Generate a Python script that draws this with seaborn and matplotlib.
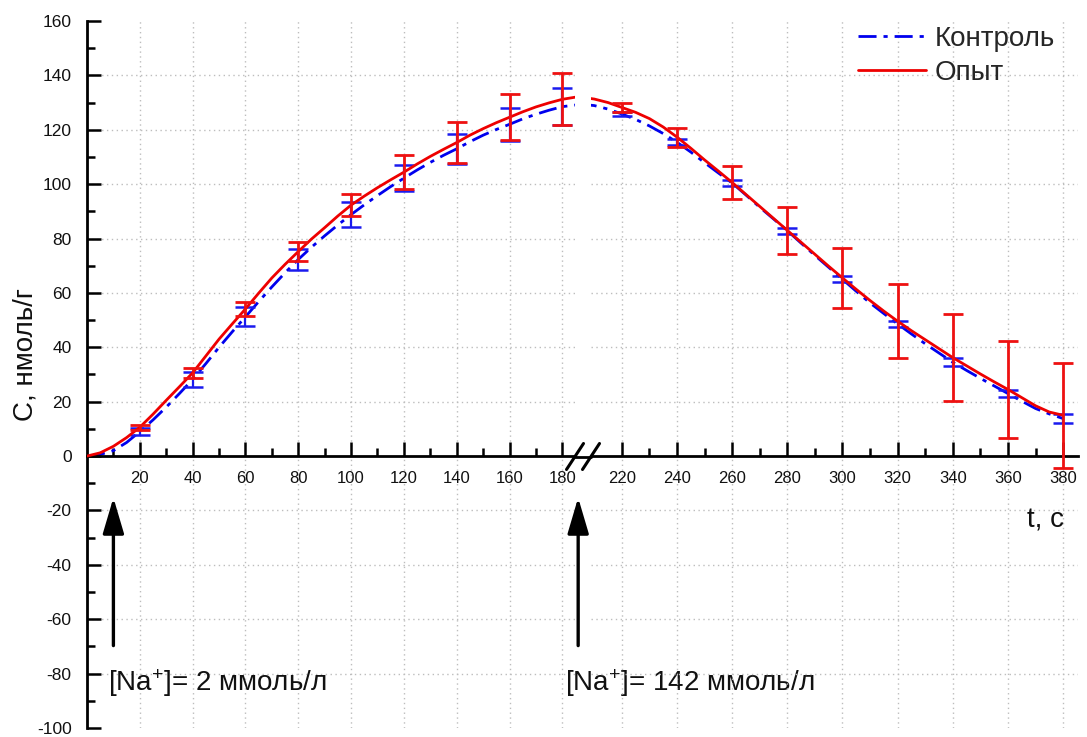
import matplotlib
matplotlib.use("Agg")
import matplotlib.pyplot as plt
from matplotlib.lines import Line2D
from matplotlib.ticker import FixedLocator
import pandas as pd
import seaborn as sns

# ---- data -------------------------------------------------------------
t = list(range(0, 385, 5))
control = [0, 0.6, 2, 5, 9, 13.3, 18, 23, 28.2, 34, 40, 45.7, 51.2, 56.8, 62.2,
           67.4, 72.3, 76.8, 81, 85, 88.8, 92.4, 95.8, 99.1, 102.2, 105.2, 108,
           110.6, 113, 115.6, 118, 120.1, 122, 124, 125.7, 127.2, 128.5, 129.1,
           129.5, 129.7, 129.6, 129.4, 128.9, 127.6, 125.8, 123.8, 121.4, 118.6,
           115.4, 111.8, 107.9, 104.1, 100.4, 96, 91.5, 87.2, 82.9, 78.3, 73.8,
           69.4, 65, 60.6, 56.3, 52.4, 48.6, 44.9, 41.3, 37.9, 34.5, 31.5, 28.6,
           25.8, 23, 20.2, 17.5, 15.5, 13.8]
experiment = [0, 1.2, 3.6, 6.8, 10.6, 15.4, 20.5, 25.5, 30.6, 36.8, 43, 48.6,
              54.1, 59.9, 65.5, 70.5, 75.2, 79.8, 84, 88.3, 92.3, 95.6, 98.7,
              101.6, 104.4, 107.4, 110.2, 112.8, 115.3, 118, 120.4, 122.6, 124.6,
              126.6, 128.4, 129.9, 131.2, 132, 132.5, 132.6, 132.4, 132, 131.3,
              130, 128.2, 126.4, 124.1, 121, 117.3, 113.2, 108.9, 104.8, 100.6,
              96.2, 91.8, 87.4, 83, 78.6, 74.2, 69.8, 65.5, 61.3, 57.2, 53.3,
              49.6, 46.1, 42.8, 39.5, 36.2, 33.2, 30.2, 27.3, 24.5, 21.5, 18.5,
              16.2, 15]

err_t = [20, 40, 60, 80, 100, 120, 140, 160, 180,
         220, 240, 260, 280, 300, 320, 340, 360, 380]
control_err = [1.3, 2.7, 3.5, 4.0, 4.5, 4.8, 5.5, 6.0, 6.8,
               0.8, 1.1, 1.1, 1.1, 1.1, 1.1, 1.4, 1.2, 1.7]
experiment_err = [1.0, 1.8, 2.6, 3.4, 4.1, 6.2, 7.5, 8.4, 9.5,
                  1.7, 3.5, 6.0, 8.6, 11.2, 13.7, 16.0, 17.8, 19.4]

left_ticks = [20, 40, 60, 80, 100, 120, 140, 160, 180]
right_ticks = [220, 240, 260, 280, 300, 320, 340, 360, 380]
y_ticks = list(range(-100, 161, 20))

labels = ["Контроль", "Опыт"]
y_label = "С, нмоль/г"
x_label = "t, с"
note_low = "[Na$^{+}$]= 2 ммоль/л"
note_high = "[Na$^{+}$]= 142 ммоль/л"

# ---- style ------------------------------------------------------------
sns.set_theme(style="white")
plt.rcParams["font.family"] = ["Liberation Sans", "DejaVu Sans"]
plt.rcParams["mathtext.default"] = "regular"
plt.rcParams["axes.unicode_minus"] = False

W, H = 1087, 737
fig = plt.figure(figsize=(W / 100, H / 100), dpi=100)


def box(x0, x1, y0, y1):
    return [x0 / W, 1 - y1 / H, (x1 - x0) / W, (y1 - y0) / H]


ax_l = fig.add_axes(box(87, 575, 21, 728))
ax_r = fig.add_axes(box(591, 1078, 21, 728))
for ax in (ax_l, ax_r):
    ax.patch.set_visible(False)

df = pd.DataFrame({"t": t + t, "C": control + experiment,
                   "group": [labels[0]] * len(t) + [labels[1]] * len(t)})
ctrl_mid = dict(zip(t, control))
exp_mid = dict(zip(t, experiment))

grid_kw = dict(color="#bdbdbd", linestyle=(0, (1, 2.5)), linewidth=1.0, zorder=0.5)
handles = []
for ax, xlim, ticks in [(ax_l, (0, 184.8), left_ticks),
                        (ax_r, (208.8, 385.4), right_ticks)]:
    ax.set_xlim(*xlim)
    ax.set_ylim(-100, 160)
    ax.grid(False)

    for x in ticks:
        ax.axvline(x, **grid_kw)
    for y in y_ticks[1:-1]:
        if y != 0:
            ax.axhline(y, **grid_kw)

    sub_c = df[df["group"] == labels[0]]
    sub_e = df[df["group"] == labels[1]]
    sns.lineplot(data=sub_c, x="t", y="C", ax=ax, color="#0000ee",
                 linewidth=2.0, linestyle=(0, (6.5, 2.5, 1.5, 2.5)),
                 zorder=2, legend=False, estimator=None)
    line_c = ax.lines[-1]
    ax.errorbar(err_t, [ctrl_mid[v] for v in err_t], yerr=control_err,
                fmt="none", ecolor="#1a1aee", elinewidth=1.6, capsize=7.5,
                capthick=1.8, zorder=2.5)
    sns.lineplot(data=sub_e, x="t", y="C", ax=ax, color="#ee0000",
                 linewidth=2.0, zorder=3, legend=False, estimator=None)
    line_e = ax.lines[-1]
    ax.errorbar(err_t, [exp_mid[v] for v in err_t], yerr=experiment_err,
                fmt="none", ecolor="#ee1111", elinewidth=2.0, capsize=7.5,
                capthick=2.0, zorder=3.5)
    handles = [line_c, line_e]

    ax.spines["top"].set_visible(False)
    ax.spines["right"].set_visible(False)
    ax.spines["bottom"].set_position(("data", 0))
    ax.spines["bottom"].set_linewidth(2.0)
    ax.spines["bottom"].set_color("black")
    ax.spines["left"].set_linewidth(2.0)
    ax.spines["left"].set_color("black")
    ax.set_xlabel("")
    ax.set_ylabel("")

    ax.xaxis.set_major_locator(FixedLocator(ticks))
    ax.xaxis.set_minor_locator(FixedLocator([v + 10 for v in ticks[:-1]]))
    ax.tick_params(axis="x", which="major", direction="in", length=10,
                   width=1.8, color="black", labelsize=12, pad=11,
                   labelcolor="#111111", bottom=True)
    ax.tick_params(axis="x", which="minor", direction="in", length=5.5,
                   width=1.8, color="black", bottom=True)

ax_l.yaxis.set_major_locator(FixedLocator(y_ticks))
ax_l.yaxis.set_minor_locator(FixedLocator(list(range(-90, 160, 20))))
ax_l.tick_params(axis="y", which="major", direction="in", length=10,
                 width=1.8, color="black", labelsize=12.5, pad=11,
                 labelcolor="#111111", left=True)
ax_l.tick_params(axis="y", which="minor", direction="in", length=5.5,
                 width=1.8, color="black", left=True)
ax_l.xaxis.set_minor_locator(FixedLocator([10] + [v + 10 for v in left_ticks[:-1]]))

ax_r.spines["left"].set_visible(False)
ax_r.set_yticks([])

# axis line across the break and the break marks
y0 = 456.5
fig.add_artist(Line2D([575 / W, 591 / W], [1 - y0 / H, 1 - y0 / H],
                      color="black", lw=2.0))
for xc in (575, 591):
    fig.add_artist(Line2D([(xc - 8.5) / W, (xc + 8.5) / W],
                          [1 - (y0 + 13) / H, 1 - (y0 - 13) / H],
                          color="black", lw=2.2))

# labels
fig.text(25 / W, 1 - 355 / H, y_label, rotation=90, fontsize=20,
         ha="center", va="center", color="#111111")
ax_r.text(373.7, -23.6, x_label, fontsize=20, ha="center", va="center",
          color="#111111")

# sodium step annotations
arrow_kw = dict(arrowstyle="-|>,head_length=2.2,head_width=0.65",
                color="black", lw=2.4, shrinkA=0, shrinkB=0,
                mutation_scale=10)
for x_arrow, x_text, note in [(10, 8, note_low), (186, 181, note_high)]:
    ax_l.annotate("", xy=(x_arrow, -15.3), xytext=(x_arrow, -69.7),
                  arrowprops=arrow_kw, annotation_clip=False)
    ax_l.text(x_text, -86.4, note, fontsize=20, ha="left", va="baseline",
              color="#111111", clip_on=False, zorder=5)

ax_r.legend(handles=handles, labels=labels, loc="upper left",
            bbox_to_anchor=(858 / W, 1 - 26 / H), bbox_transform=fig.transFigure,
            frameon=False, fontsize=20, handlelength=2.45, handletextpad=0.3,
            borderpad=0, borderaxespad=0, labelspacing=0.28)

fig.savefig("out.png", dpi=100, facecolor="white")
